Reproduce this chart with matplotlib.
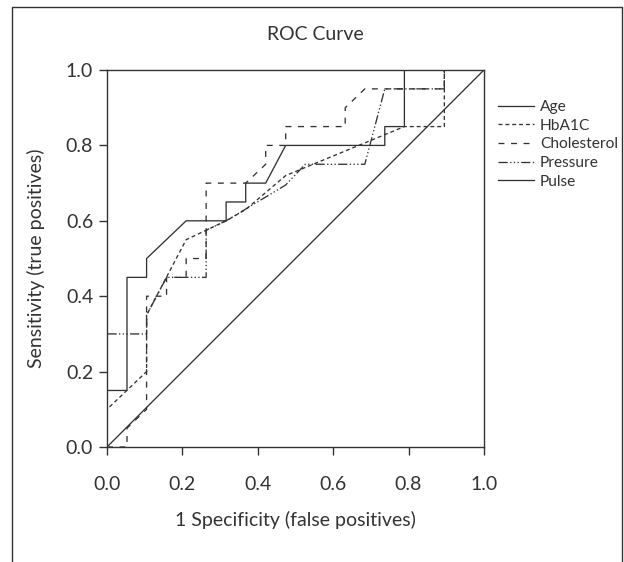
import matplotlib
matplotlib.use("Agg")
import matplotlib.pyplot as plt
from matplotlib.lines import Line2D

# ROC curve points (1 - specificity, sensitivity)
age_x = [0, 0, 0.053, 0.053, 0.105, 0.105, 0.21, 0.316, 0.316, 0.368, 0.368, 0.421, 0.474, 0.737, 0.737, 0.789, 0.789, 1.0]
age_y = [0, 0.15, 0.15, 0.45, 0.45, 0.50, 0.60, 0.60, 0.65, 0.65, 0.70, 0.70, 0.80, 0.80, 0.85, 0.85, 1.0, 1.0]

hba1c_x = [0, 0, 0.105, 0.105, 0.21, 0.316, 0.368, 0.474, 0.789, 0.895, 0.895, 1.0]
hba1c_y = [0, 0.10, 0.20, 0.35, 0.55, 0.60, 0.63, 0.72, 0.85, 0.85, 1.0, 1.0]

chol_x = [0, 0.053, 0.053, 0.105, 0.105, 0.158, 0.158, 0.21, 0.21, 0.263, 0.263, 0.368, 0.421, 0.421,
          0.474, 0.474, 0.632, 0.632, 0.684, 0.895, 0.895, 1.0]
chol_y = [0, 0, 0.05, 0.10, 0.40, 0.40, 0.45, 0.45, 0.50, 0.50, 0.70, 0.70, 0.75, 0.80,
          0.80, 0.85, 0.85, 0.90, 0.95, 0.95, 1.0, 1.0]

press_x = [0, 0, 0.105, 0.105, 0.158, 0.263, 0.263, 0.316, 0.474, 0.526, 0.684, 0.737, 0.895, 0.895, 1.0]
press_y = [0, 0.30, 0.30, 0.35, 0.45, 0.45, 0.575, 0.60, 0.695, 0.75, 0.75, 0.95, 0.95, 1.0, 1.0]

pulse_x = [0, 1.0]
pulse_y = [0, 1.0]

ticks = [0.0, 0.2, 0.4, 0.6, 0.8, 1.0]
tick_labels = ["0.0", "0.2", "0.4", "0.6", "0.8", "1.0"]

col = "#333333"
lw = 0.95
plt.rcParams["font.family"] = ["Lato", "DejaVu Sans"]

fig = plt.figure(figsize=(6.24, 5.62), dpi=100)
ax = fig.add_axes([0.1715, 0.2046, 0.604, 0.6708])

ax.plot(age_x, age_y, color=col, lw=lw, ls="-", label="Age")
ax.plot(hba1c_x, hba1c_y, color=col, lw=lw, ls=(0, (3, 2.2)), label="HbA1C")
ax.plot(chol_x, chol_y, color=col, lw=lw, ls=(0, (4.5, 5)), label="Cholesterol")
ax.plot(press_x, press_y, color=col, lw=lw,
        ls=(0, (7, 1.8, 1, 1.8, 1, 1.8, 1, 1.8)), label="Pressure")
ax.plot(pulse_x, pulse_y, color=col, lw=lw, ls="-", label="Pulse")

ax.set_xlim(0, 1)
ax.set_ylim(0, 1)
ax.set_xticks(ticks)
ax.set_xticklabels(tick_labels)
ax.set_yticks(ticks)
ax.set_yticklabels(tick_labels)
ax.tick_params(direction="out", length=6, width=1.0, color=col, labelcolor=col, labelsize=14)
ax.tick_params(axis="x", pad=15)
ax.tick_params(axis="y", pad=4)
for s in ax.spines.values():
    s.set_color(col)
    s.set_linewidth(1.0)

ax.set_xlabel("1 Specificity (false positives)", fontsize=14, color=col, labelpad=13)
ax.set_ylabel("Sensitivity (true positives)", fontsize=14, color=col, labelpad=15)
fig.text(0.505, 0.938, "ROC Curve", ha="center", va="center", fontsize=14, color=col)

ax.legend(loc="upper left", bbox_to_anchor=(0.798, 0.822), bbox_transform=fig.transFigure,
          frameon=False, fontsize=11.2, handlelength=2.3, handletextpad=0.4,
          labelspacing=0.3, borderpad=0, borderaxespad=0, labelcolor=col)

# outer frame (open at the bottom)
fx = [0.019, 0.019, 0.997, 0.997]
fy = [0.0, 0.9875, 0.9875, 0.0]
fig.add_artist(Line2D(fx, fy, transform=fig.transFigure, color=col, lw=1.0))

fig.savefig("out.png", dpi=100)
